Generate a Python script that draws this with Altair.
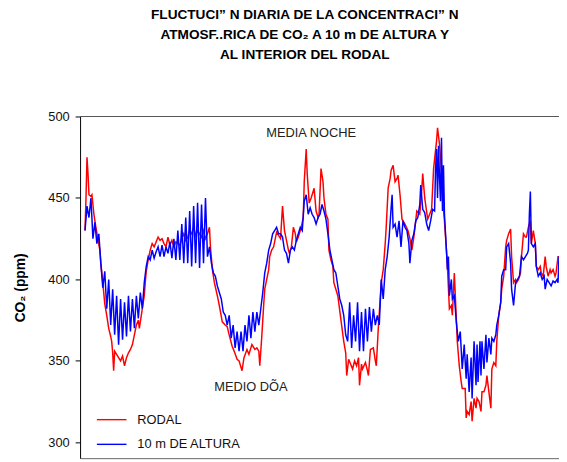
import altair as alt
import pandas as pd

# Sample index (time axis) and CO2 readings (ppm)
rodal_t = [86, 87, 88, 89, 90, 92, 93, 95, 97, 99, 101, 102, 104, 106, 108, 110, 112, 113, 114, 115,
           116, 118, 120, 122, 124, 126, 128, 130, 132, 134, 136, 138, 140, 141, 143, 144, 146, 147, 148, 150,
           152, 154, 156, 158, 160, 162, 164, 166, 168, 170, 172, 174, 176, 178, 180, 182, 184, 186, 188, 190,
           192, 194, 196, 198, 200, 202, 204, 206, 208, 210, 212, 213, 215, 217, 220, 222, 225, 228, 230, 232,
           235, 237, 240, 242, 245, 247, 250, 252, 255, 258, 260, 262, 263, 265, 267, 268, 270, 272, 273, 275,
           277, 280, 282, 284, 286, 288, 290, 292, 293, 295, 297, 299, 300, 302, 305, 307, 308, 309, 310, 311,
           313, 315, 318, 320, 322, 323, 325, 327, 328, 330, 332, 333, 335, 337, 338, 340, 342, 345, 348, 350,
           351, 353, 355, 357, 359, 361, 363, 364, 366, 367, 370, 372, 373, 375, 378, 380, 381, 383, 386, 388,
           390, 391, 393, 395, 396, 398, 400, 402, 403, 405, 407, 410, 413, 415, 417, 419, 422, 425, 427, 428,
           430, 433, 435, 437, 439, 442, 443, 445, 447, 448, 450, 452, 453, 455, 457, 458, 460, 462, 463, 465,
           467, 468, 471, 472, 473, 475, 477, 478, 480, 482, 483, 485, 487, 488, 490, 492, 493, 495, 497, 498,
           500, 502, 503, 505, 507, 508, 510, 512, 513, 515, 517, 518, 520, 522, 523, 525, 527, 528, 530, 532,
           533, 535, 537, 538, 540, 542, 543, 545, 547, 548, 550, 552, 553, 555, 557, 558, 560, 562, 563, 565,
           566]
rodal_ppm = [430, 450, 475, 465, 452, 451, 452, 440, 432, 425, 418, 410, 398, 385, 378, 370, 365, 362, 355, 344,
             356, 354, 352, 350, 353, 347, 352, 355, 357, 360, 366, 372, 375, 370, 378, 382, 390, 398, 405, 412,
             418, 422, 420, 423, 426, 424, 425, 422, 420, 426, 421, 424, 420, 423, 422, 421, 425, 428, 424, 426,
             430, 428, 432, 427, 430, 428, 426, 430, 425, 428, 432, 420, 406, 398, 390, 384, 374, 372, 371, 366,
             359, 356, 351, 350, 344, 352, 357, 354, 360, 357, 358, 356, 347, 365, 385, 394, 400, 406, 414, 418,
             420, 429, 427, 425, 445, 430, 424, 418, 416, 420, 432, 428, 423, 426, 432, 438, 460, 470, 480, 465,
             447, 450, 456, 442, 438, 440, 468, 460, 450, 440, 437, 418, 412, 408, 398, 394, 390, 376, 362, 355,
             341, 351, 348, 345, 350, 347, 352, 335, 348, 345, 349, 344, 341, 357, 358, 350, 347, 370, 398, 406,
             422, 432, 456, 462, 467, 470, 460, 462, 464, 452, 437, 434, 430, 425, 418, 426, 442, 440, 455, 465,
             450, 437, 440, 443, 468, 485, 493, 483, 467, 450, 436, 418, 408, 382, 384, 378, 404, 376, 362, 347,
             337, 333, 333, 315, 319, 317, 325, 313, 327, 321, 327, 325, 319, 331, 331, 335, 341, 331, 321, 345,
             349, 347, 362, 378, 386, 394, 402, 420, 424, 428, 431, 414, 398, 400, 398, 400, 404, 414, 428, 426,
             426, 432, 436, 422, 430, 422, 408, 406, 408, 404, 402, 414, 408, 402, 406, 404, 406, 402, 404, 414,
             414]

altura_t = [86, 88, 90, 92, 94, 96, 98, 100, 102, 104, 106, 108, 110, 112, 114, 116, 118, 120, 122, 124,
            126, 128, 130, 132, 134, 136, 138, 140, 142, 144, 146, 148, 150, 152, 154, 156, 158, 160, 162, 164,
            166, 168, 170, 172, 174, 176, 178, 180, 182, 184, 186, 188, 190, 192, 194, 196, 198, 200, 202, 204,
            206, 208, 210, 212, 214, 216, 218, 220, 222, 224, 226, 228, 230, 232, 234, 236, 238, 240, 242, 244,
            246, 248, 250, 252, 254, 256, 258, 260, 262, 264, 266, 268, 270, 272, 274, 276, 278, 280, 282, 284,
            286, 288, 290, 292, 294, 296, 298, 300, 302, 304, 306, 308, 310, 312, 314, 316, 318, 320, 322, 324,
            326, 328, 330, 332, 334, 336, 338, 340, 342, 344, 346, 348, 350, 352, 354, 356, 358, 360, 362, 364,
            366, 368, 370, 372, 374, 376, 378, 380, 382, 384, 386, 388, 390, 392, 394, 396, 397, 398, 400, 402,
            404, 406, 408, 410, 412, 414, 415, 417, 419, 421, 423, 425, 426, 428, 430, 432, 434, 436, 438, 440,
            441, 442, 443, 444, 445, 446, 447, 448, 449, 450, 452, 453, 454, 455, 457, 458, 460, 462, 464, 466,
            468, 470, 472, 473, 475, 477, 478, 480, 482, 483, 484, 486, 487, 488, 490, 492, 493, 495, 497, 498,
            500, 502, 503, 505, 507, 508, 510, 512, 513, 515, 517, 518, 520, 522, 524, 526, 528, 530, 532, 534,
            535, 536, 537, 538, 540, 542, 543, 545, 547, 549, 551, 552, 554, 556, 558, 560, 562, 564, 565, 566]
altura_ppm = [430, 445, 438, 450, 425, 435, 422, 428, 410, 395, 405, 382, 400, 372, 394, 366, 390, 360, 388, 363,
              386, 365, 390, 368, 388, 370, 390, 376, 392, 382, 398, 408, 414, 412, 418, 413, 417, 420, 414, 421,
              414, 420, 416, 423, 413, 425, 412, 430, 412, 434, 410, 438, 410, 442, 408, 445, 410, 447, 407, 446,
              410, 450, 414, 420, 410, 404, 402, 396, 392, 388, 380, 378, 372, 378, 364, 372, 358, 368, 356, 368,
              356, 372, 362, 378, 364, 380, 368, 380, 372, 382, 392, 404, 410, 418, 422, 428, 430, 432, 428, 428,
              426, 418, 416, 410, 418, 420, 418, 424, 428, 432, 430, 448, 452, 440, 444, 440, 438, 434, 438, 440,
              446, 442, 437, 428, 418, 412, 406, 404, 396, 388, 384, 378, 366, 362, 386, 358, 378, 362, 386, 356,
              380, 356, 382, 362, 383, 368, 382, 372, 378, 372, 400, 388, 406, 414, 426, 444, 452, 432, 434, 426,
              436, 420, 436, 432, 430, 422, 410, 424, 428, 436, 438, 446, 458, 443, 441, 434, 430, 436, 443, 442,
              468, 480, 450, 482, 462, 448, 487, 442, 470, 440, 418, 406, 414, 390, 400, 388, 390, 374, 362, 368,
              345, 360, 339, 354, 331, 352, 327, 362, 335, 360, 337, 362, 341, 362, 345, 366, 349, 364, 354, 364,
              362, 366, 372, 378, 386, 402, 406, 406, 420, 422, 410, 394, 384, 398, 400, 402, 414, 412, 414, 416,
              418, 440, 454, 422, 420, 422, 408, 402, 404, 400, 402, 394, 400, 398, 396, 399, 398, 400, 398, 414]

serie_nombres = ["RODAL", "10 m DE ALTURA"]
serie_colores = ["#ff0000", "#0000ff"]
y_ticks = [300, 350, 400, 450, 500]

notas_texto = ["MEDIA NOCHE", "MEDIO DÕA"]
notas_t = [315, 254]
notas_ppm = [490, 334]

titulo = ["FLUCTUCI\u201d N DIARIA DE LA CONCENTRACI\u201d N",
          "ATMOSF..RICA DE CO\u2082 A 10 m DE ALTURA Y",
          "AL INTERIOR DEL RODAL"]

df_rodal = pd.DataFrame({"muestra": rodal_t, "ppm": rodal_ppm, "serie": serie_nombres[0]})
df_altura = pd.DataFrame({"muestra": altura_t, "ppm": altura_ppm, "serie": serie_nombres[1]})
df_notas = pd.DataFrame({"muestra": notas_t, "ppm": notas_ppm, "texto": notas_texto})

x_scale = alt.Scale(domain=[81, 566], nice=False, zero=False)
y_scale = alt.Scale(domain=[290.3, 500], nice=False, zero=False)

color = alt.Color(
    "serie:N",
    scale=alt.Scale(domain=serie_nombres, range=serie_colores),
    legend=alt.Legend(
        title=None, orient="none", legendX=16, legendY=291,
        symbolType="stroke", symbolSize=900, symbolStrokeWidth=1.4,
        labelFontSize=13, labelFont="Liberation Sans", labelColor="#111",
        labelOffset=10, padding=0,
    ),
)

x_enc = alt.X("muestra:Q", scale=x_scale,
              axis=alt.Axis(title=None, labels=False, ticks=False, grid=False,
                            domainColor="#666", domainWidth=1))
y_enc = alt.Y("ppm:Q", scale=y_scale,
              axis=alt.Axis(title="CO\u2082 (ppm)", values=y_ticks, grid=False,
                            domainColor="#000", tickColor="#000", tickSize=5,
                            labelFontSize=13, labelColor="#111", labelPadding=6,
                            titleFontSize=14, titleFontWeight="bold", titleColor="#000",
                            titlePadding=21))

linea_rodal = alt.Chart(df_rodal).mark_line(strokeWidth=1.5, clip=True).encode(
    x=x_enc, y=y_enc, color=color)
linea_altura = alt.Chart(df_altura).mark_line(strokeWidth=1.5, clip=True).encode(
    x=alt.X("muestra:Q", scale=x_scale), y=alt.Y("ppm:Q", scale=y_scale), color=color)

borde_sup = alt.Chart(alt.Data(values=[{}])).mark_rule(color="#555", strokeWidth=1).encode(
    y=alt.value(0))

notas = alt.Chart(df_notas).mark_text(fontSize=13, font="Liberation Sans", color="#222").encode(
    x=alt.X("muestra:Q", scale=x_scale), y=alt.Y("ppm:Q", scale=y_scale), text="texto:N")

chart = alt.layer(linea_rodal, linea_altura, borde_sup, notas).properties(
    width=485, height=346,
    autosize=alt.AutoSizeParams(type="none"),
    padding={"left": 73, "top": 107, "right": 0, "bottom": 1},
    title=alt.TitleParams(text=titulo, fontSize=13.8, fontWeight="bold", font="Liberation Sans",
                          anchor="middle", dx=-15, offset=49, lineHeight=20.5, color="#000"),
).configure(font="Liberation Sans").configure_view(stroke=None)

chart.save("out.html", embed_options={"renderer": "svg", "actions": False})
